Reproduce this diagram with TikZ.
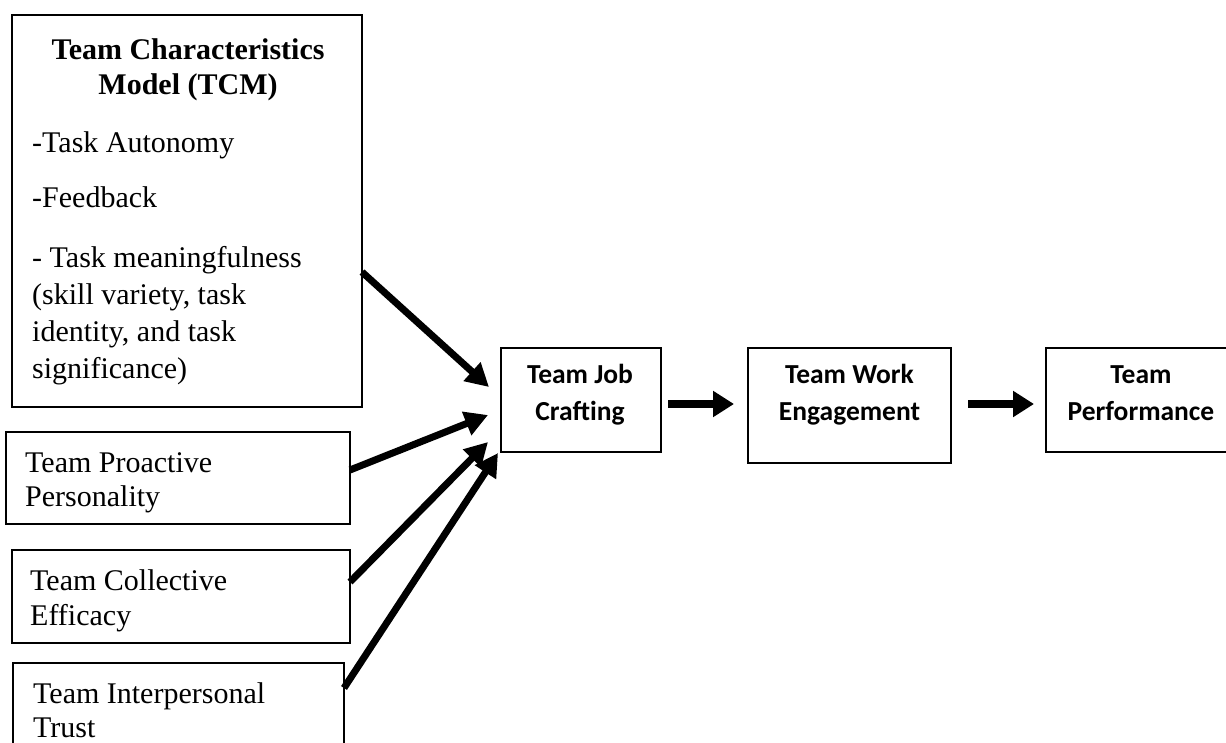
\documentclass[tikz,border=0pt]{standalone}
\usepackage{fontspec}
\setmainfont{Liberation Serif}
\newfontfamily\cali{Carlito}
\usetikzlibrary{arrows.meta,calc}
\begin{document}
\begin{tikzpicture}[x=1pt,y=-1pt,
  box/.style={draw=black, line width=1.3pt, inner sep=0pt, outer sep=0pt},
  stxt/.style={font=\fontsize{30}{37}\selectfont, inner sep=0pt, anchor=base west},
  ttl/.style={font=\fontsize{30}{35}\selectfont\bfseries, inner sep=0pt, anchor=base},
  ctxt/.style={font=\cali\bfseries\fontsize{27.5}{37}\selectfont, inner sep=0pt, anchor=base},
  diag/.style={line width=7pt, -{Triangle[length=23pt,width=24pt]}, line cap=butt},
  horiz/.style={line width=8.5pt, -{Triangle[length=21pt,width=25pt]}}]
\useasboundingbox (0,0) rectangle (1226,742);

% boxes
\node[box, minimum width=350pt, minimum height=392pt] (tcm) at (187,211) {};
\node[box, minimum width=344pt, minimum height=92pt] (pro) at (178,478) {};
\node[box, minimum width=338pt, minimum height=93pt] (col) at (181,596.5) {};
\node[box, minimum width=331pt, minimum height=107pt] (int) at (178.5,716.5) {};
\node[box, minimum width=160pt, minimum height=104pt] (job) at (581,400) {};
\node[box, minimum width=203pt, minimum height=115pt] (work) at (849.5,405.5) {};
\node[box, minimum width=188pt, minimum height=104pt] (perf) at (1140,400) {};

% TCM text
\node[ttl] (t1) at (188,59) {Team Characteristics};
\node[ttl] (t2) at (188,94) {Model (TCM)};
\node[stxt] (t3) at (32,152) {-Task Autonomy};
\node[stxt] (t4) at (32,207) {-Feedback};
\node[stxt] (t5) at (32,267) {- Task meaningfulness};
\node[stxt] (t6) at (32,304) {(skill variety, task};
\node[stxt] (t7) at (32,341) {identity, and task};
\node[stxt] (t8) at (32,378) {significance)};

% left boxes text
\node[stxt] (p1) at (25,472) {Team Proactive};
\node[stxt] (p2) at (25,506) {Personality};
\node[stxt] (c1) at (30,590) {Team Collective};
\node[stxt] (c2) at (30,625) {Efficacy};
\node[stxt] (i1) at (33,703) {Team Interpersonal};
\node[stxt] (i2) at (33,737) {Trust};

% right boxes text
\node[ctxt] (j1) at (580,383) {Team Job};
\node[ctxt] (j2) at (580,420) {Crafting};
\node[ctxt] (w1) at (849.5,383) {Team Work};
\node[ctxt] (w2) at (849.5,420) {Engagement};
\node[ctxt] (f1) at (1141,383) {Team};
\node[ctxt] (f2) at (1141,420) {Performance};

% arrow end points
\coordinate (e1) at (489,387);
\coordinate (e2) at (488,415);
\coordinate (e3) at (488,442);
\coordinate (e4) at (498,453);

\draw[diag] (tcm.east |- 0,272) -- (e1);
\draw[diag] (pro.east |- 0,470) -- (e2);
\draw[diag] (col.east |- 0,582) -- (e3);
\draw[diag] (int.east |- 0,688) -- (e4);

\coordinate (h1s) at (668,404);
\coordinate (h1e) at (734,404);
\coordinate (h2s) at (968,404);
\coordinate (h2e) at (1034,404);
\draw[horiz] (h1s) -- (h1e);
\draw[horiz] (h2s) -- (h2e);
\end{tikzpicture}
\end{document}
